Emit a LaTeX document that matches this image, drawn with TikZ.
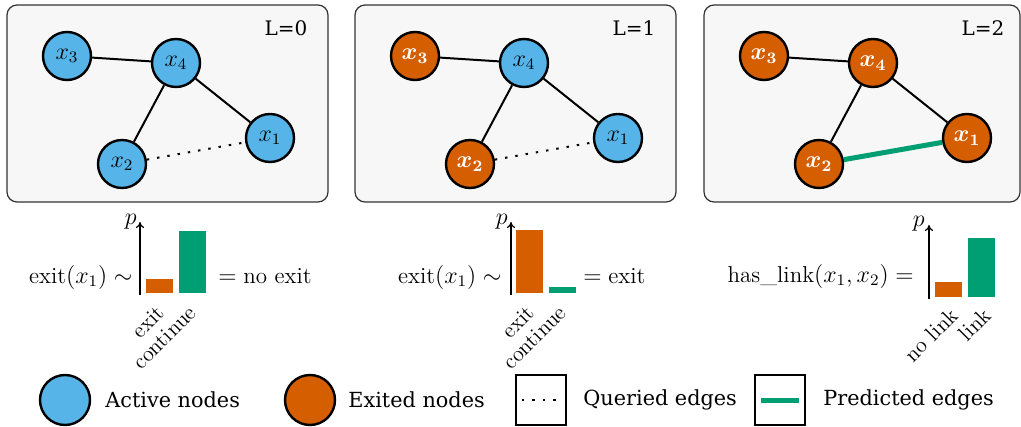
\documentclass[tikz,border=0pt]{standalone}
\usepackage{amsmath,bm}
\usepackage{fontspec}
\newfontfamily\slab{DejaVu Serif}
\usetikzlibrary{arrows.meta}
\definecolor{azul}{HTML}{56B4E9}
\definecolor{naranja}{HTML}{D55E00}
\definecolor{verde}{HTML}{009E73}
\definecolor{fondo}{HTML}{F7F7F7}

\begin{document}
\begin{tikzpicture}[x=0.5pt,y=-0.5pt,
      panel/.style={draw=black!80,fill=fondo,rounded corners=5pt,line width=0.6pt},
      act/.style={circle,draw,line width=1.2pt,fill=azul,minimum size=24pt,inner sep=0pt,
                  font=\fontsize{12}{14}\selectfont},
      ext/.style={act,fill=naranja,text=white},
      ed/.style={line width=1pt},
      qry/.style={ed,dash pattern=on 1.2pt off 4pt},
      pred/.style={line width=2.5pt,verde},
      lvl/.style={font=\slab\fontsize{10}{12}\selectfont},
      eq/.style={inner sep=0pt,font=\fontsize{11.5}{13}\selectfont},
      cat/.style={rotate=45,anchor=east,inner sep=1pt,font=\fontsize{11}{13}\selectfont},
      ax/.style={line width=0.6pt,-{To[length=3pt,width=4pt]}},
      leg/.style={anchor=west,inner sep=0pt,font=\slab\fontsize{10.4}{12}\selectfont},
      legbox/.style={draw,line width=1pt,minimum size=25pt,inner sep=0pt}]
    \useasboundingbox (0,0) rectangle (1021,427);
    % L=0
    \draw[panel] (7,5) rectangle (328,202);
    \node[lvl] (lv0) at (286,28) {L=0};
    \node[act] (a3) at (67,56) {$x_3$};
    \node[act] (a4) at (176,63) {$x_4$};
    \node[act] (a1) at (270,138) {$x_1$};
    \node[act] (a2) at (122,164) {$x_2$};
    \draw[ed] (a3) -- (a4);
    \draw[ed] (a4) -- (a2);
    \draw[ed] (a4) -- (a1);
    \draw[qry] (a2) -- (a1);
    % L=1
    \begin{scope}[shift={(348,0)}]
      \draw[panel] (7,5) rectangle (328,202);
      \node[lvl] (lv1) at (286,28) {L=1};
      \node[ext] (b3) at (67,56) {$\bm{x_3}$};
      \node[act] (b4) at (176,63) {$x_4$};
      \node[act] (b1) at (270,138) {$x_1$};
      \node[ext] (b2) at (122,164) {$\bm{x_2}$};
      \draw[ed] (b3) -- (b4);
      \draw[ed] (b4) -- (b2);
      \draw[ed] (b4) -- (b1);
      \draw[qry] (b2) -- (b1);
    \end{scope}
    % L=2
    \begin{scope}[shift={(697,0)}]
      \draw[panel] (7,5) rectangle (323,202);
      \node[lvl] (lv2) at (286,28) {L=2};
      \node[ext] (c3) at (67,56) {$\bm{x_3}$};
      \node[ext] (c4) at (176,63) {$\bm{x_4}$};
      \node[ext] (c1) at (270,138) {$\bm{x_1}$};
      \node[ext] (c2) at (122,164) {$\bm{x_2}$};
      \draw[ed] (c3) -- (c4);
      \draw[ed] (c4) -- (c2);
      \draw[ed] (c4) -- (c1);
      \draw[pred] (c2) -- (c1);
    \end{scope}
    % bar charts
    \node[eq,anchor=base east] (q0) at (133,283) {$\mathrm{exit}(x_1)\sim$};
    \draw[ax] (140,295) -- (140,222);
    \node[eq,anchor=base east] (p0) at (137,224) {$p$};
    \fill[naranja] (146,279) rectangle (173,293);
    \fill[verde] (179,231) rectangle (206,293);
    \node[eq,anchor=base west] (r0) at (218,283) {$=\text{no exit}$};
    \node[cat] (e0) at (162,308) {exit};
    \node[cat] (k0) at (194,308) {continue};
    \node[eq,anchor=base east] (q1) at (502,283) {$\mathrm{exit}(x_1)\sim$};
    \draw[ax] (511,295) -- (511,222);
    \node[eq,anchor=base east] (p1) at (508,224) {$p$};
    \fill[naranja] (516,230) rectangle (543,293);
    \fill[verde] (549,287) rectangle (576,293);
    \node[eq,anchor=base west] (r1) at (583,283) {$=\mathrm{exit}$};
    \node[cat] (e1) at (532,308) {exit};
    \node[cat] (k1) at (564,308) {continue};
    \node[eq,anchor=base east] (q2) at (914,282) {$\text{has\_link}(x_1,x_2)=$};
    \draw[ax] (929,299) -- (929,225);
    \node[eq,anchor=base east] (p2) at (925,227) {$p$};
    \fill[naranja] (935,282) rectangle (962,297);
    \fill[verde] (968,238) rectangle (995,297);
    \node[cat] (n2) at (956,310) {no link};
    \node[cat] (l2) at (989,310) {link};
    % legend
    \node[act,minimum size=25pt] (la) at (65,400) {};
    \node[leg] (lat) at (105,400) {Active nodes};
    \node[ext,minimum size=25pt] (le) at (310,400) {};
    \node[leg] (let) at (348,400) {Exited nodes};
    \node[legbox] (lq) at (541,400) {};
    \draw[qry] ([xshift=3.5pt]lq.west) -- ([xshift=-3.5pt]lq.east);
    \node[leg] (lqt) at (583,400) {Queried edges};
    \node[legbox] (lp) at (780,400) {};
    \draw[pred] ([xshift=3.5pt]lp.west) -- ([xshift=-3.5pt]lp.east);
    \node[leg] (lpt) at (823,400) {Predicted edges};
  \end{tikzpicture}
\end{document}
